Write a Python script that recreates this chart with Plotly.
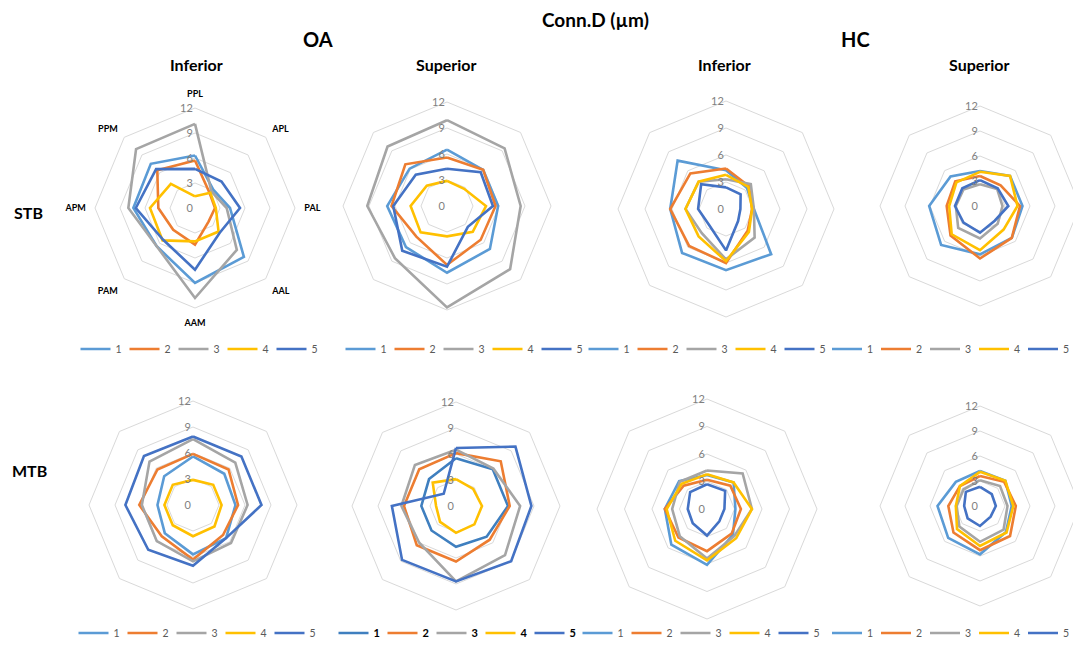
import plotly.graph_objects as go

categories = ["PPL", "APL", "PAL", "AAL", "AAM", "PAM", "APM", "PPM"]
series_names = ["1", "2", "3", "4", "5"]
radial_ticks = [0, 3, 6, 9, 12]

# OA - Inferior - STB
oa_inf_stb_1 = [6.3, 3.1, 4.2, 8.3, 9.0, 6.5, 7.4, 7.5]
oa_inf_stb_2 = [5.7, 2.5, 2.4, 2.3, 4.4, 3.7, 4.4, 6.4]
oa_inf_stb_3 = [10.1, 2.8, 3.8, 7.1, 10.8, 6.5, 8.0, 10.0]
oa_inf_stb_4 = [1.4, 2.6, 2.5, 4.0, 4.0, 5.5, 5.4, 4.1]
oa_inf_stb_5 = [4.7, 4.5, 5.4, 4.2, 7.4, 5.4, 7.1, 6.6]

# OA - Superior - STB
oa_sup_stb_1 = [6.5, 5.9, 5.9, 7.0, 7.7, 6.7, 6.9, 6.1]
oa_sup_stb_2 = [5.6, 5.9, 5.6, 5.5, 6.8, 5.0, 6.4, 6.8]
oa_sup_stb_3 = [9.9, 9.4, 8.5, 10.3, 11.7, 8.5, 9.2, 9.7]
oa_sup_stb_4 = [2.9, 2.8, 4.5, 4.2, 3.5, 4.3, 4.2, 3.3]
oa_sup_stb_5 = [4.3, 5.5, 5.3, 3.4, 7.0, 7.3, 6.2, 5.1]

# HC - Inferior - STB
hc_inf_stb_1 = [4.3, 3.3, 3.1, 7.1, 6.8, 6.9, 6.2, 7.6]
hc_inf_stb_2 = [4.5, 3.6, 2.9, 3.4, 6.0, 5.8, 6.2, 5.6]
hc_inf_stb_3 = [3.3, 3.9, 3.1, 4.5, 5.6, 3.8, 4.5, 4.3]
hc_inf_stb_4 = [3.8, 3.5, 2.9, 3.6, 5.8, 4.3, 4.5, 4.3]
hc_inf_stb_5 = [2.4, 2.3, 1.6, 1.9, 4.6, 2.6, 3.1, 3.9]

# HC - Superior - STB
hc_sup_stb_1 = [4.2, 5.1, 5.1, 5.4, 5.8, 6.6, 6.1, 5.0]
hc_sup_stb_2 = [3.6, 3.5, 4.8, 5.4, 6.3, 5.0, 4.0, 4.2]
hc_sup_stb_3 = [2.6, 2.9, 2.7, 3.0, 3.9, 3.7, 2.9, 2.8]
hc_sup_stb_4 = [4.1, 5.1, 4.5, 4.0, 5.3, 4.8, 3.7, 4.0]
hc_sup_stb_5 = [3.1, 3.0, 3.4, 2.5, 3.2, 2.8, 3.0, 3.0]

# OA - Inferior - MTB
oa_inf_mtb_1 = [5.6, 5.1, 4.9, 5.4, 5.7, 4.6, 4.1, 4.7]
oa_inf_mtb_2 = [5.9, 5.8, 5.2, 4.9, 6.3, 5.1, 6.2, 5.8]
oa_inf_mtb_3 = [7.6, 6.9, 6.3, 6.2, 6.5, 5.9, 5.9, 7.1]
oa_inf_mtb_4 = [2.9, 3.3, 3.3, 3.5, 3.6, 3.3, 3.3, 3.3]
oa_inf_mtb_5 = [7.9, 7.9, 7.9, 5.4, 7.0, 7.3, 7.8, 8.0]

# OA - Superior - MTB
oa_sup_mtb_1 = [5.5, 6.0, 6.0, 5.0, 4.7, 4.0, 4.0, 4.4]
oa_sup_mtb_2 = [6.1, 7.3, 6.2, 5.5, 6.4, 6.4, 6.0, 6.0]
oa_sup_mtb_3 = [6.5, 6.1, 7.4, 8.0, 8.7, 6.0, 6.3, 6.7]
oa_sup_mtb_4 = [3.1, 2.8, 3.0, 3.0, 3.1, 2.6, 2.3, 3.8]
oa_sup_mtb_5 = [6.7, 9.7, 8.7, 9.0, 8.7, 8.8, 7.4, 2.0]

# HC - Inferior - MTB
hc_inf_mtb_1 = [3.7, 4.1, 3.1, 4.0, 6.1, 5.5, 4.6, 4.3]
hc_inf_mtb_2 = [3.2, 3.6, 3.7, 3.8, 4.6, 4.4, 4.6, 3.6]
hc_inf_mtb_3 = [4.2, 5.5, 4.9, 4.2, 5.4, 4.2, 3.8, 4.2]
hc_inf_mtb_4 = [3.8, 4.1, 4.9, 4.5, 5.6, 4.9, 4.4, 3.9]
hc_inf_mtb_5 = [2.7, 2.8, 1.9, 1.9, 2.9, 2.2, 2.1, 2.6]

# HC - Superior - MTB
hc_sup_mtb_1 = [4.2, 4.3, 3.8, 4.4, 5.8, 5.4, 5.1, 4.1]
hc_sup_mtb_2 = [3.6, 4.1, 4.3, 5.1, 5.3, 4.5, 3.8, 3.4]
hc_sup_mtb_3 = [3.1, 3.4, 3.3, 4.0, 4.3, 3.5, 2.8, 2.8]
hc_sup_mtb_4 = [4.1, 4.3, 4.0, 4.5, 4.8, 3.9, 2.9, 3.4]
hc_sup_mtb_5 = [2.3, 2.0, 1.9, 1.8, 2.4, 2.1, 1.9, 2.4]

charts = [
    [oa_inf_stb_1, oa_inf_stb_2, oa_inf_stb_3, oa_inf_stb_4, oa_inf_stb_5],
    [oa_sup_stb_1, oa_sup_stb_2, oa_sup_stb_3, oa_sup_stb_4, oa_sup_stb_5],
    [hc_inf_stb_1, hc_inf_stb_2, hc_inf_stb_3, hc_inf_stb_4, hc_inf_stb_5],
    [hc_sup_stb_1, hc_sup_stb_2, hc_sup_stb_3, hc_sup_stb_4, hc_sup_stb_5],
    [oa_inf_mtb_1, oa_inf_mtb_2, oa_inf_mtb_3, oa_inf_mtb_4, oa_inf_mtb_5],
    [oa_sup_mtb_1, oa_sup_mtb_2, oa_sup_mtb_3, oa_sup_mtb_4, oa_sup_mtb_5],
    [hc_inf_mtb_1, hc_inf_mtb_2, hc_inf_mtb_3, hc_inf_mtb_4, hc_inf_mtb_5],
    [hc_sup_mtb_1, hc_sup_mtb_2, hc_sup_mtb_3, hc_sup_mtb_4, hc_sup_mtb_5],
]

colors = ["#5B9BD5", "#ED7D31", "#A5A5A5", "#FFC000", "#4472C4"]
colors_alt = ["#3F7FBF", "#ED7D31", "#A5A5A5", "#FFC000", "#4472C4"]

# page offset (browser body margin) and figure size
OFF = 8
W, H = 1081 - OFF, 646 - OFF


def px(x):
    return min(1.0, max(0.0, (x - OFF) / W))


def py(y):
    return min(1.0, max(0.0, 1 - (y - OFF) / H))


# (center x, center y, radius) in screen pixels for each radar
geom = [
    (195, 208, 100), (447, 206, 104), (726, 209, 108), (980, 206, 100),
    (193, 505, 104), (456, 506, 104), (707, 509, 110), (980, 506, 100),
]
# (x, y, anchor) of each legend in screen pixels
legend_pos = [
    (198, 349, "center"), (463, 349, "center"), (706, 349, "center"), (1072, 349, "right"),
    (196, 633, "center"), (456, 633, "center"), (700, 633, "center"), (1072, 633, "right"),
]

FONT = "Lato"
SUFFIX = "\u2003\u2003\u2002"
fig = go.Figure()

for i, data in enumerate(charts):
    pid = "polar" if i == 0 else f"polar{i+1}"
    lid = "legend" if i == 0 else f"legend{i+1}"
    cols = colors_alt if i == 5 else colors
    for j, vals in enumerate(data):
        fig.add_trace(go.Scatterpolar(
            r=vals + vals[:1],
            theta=categories + categories[:1],
            mode="lines",
            line=dict(color=cols[j], width=2.6),
            name=series_names[j],
            subplot=pid,
            legend=lid,
            showlegend=True,
        ))
    cx, cy, r = geom[i]
    fig.layout[pid] = dict(
        domain=dict(x=[px(cx - r), px(cx + r)], y=[py(cy + r), py(cy - r)]),
        gridshape="linear",
        bgcolor="white",
        radialaxis=dict(
            range=[0, 12], tickvals=radial_ticks, showline=False, ticks="",
            angle=90, side="counterclockwise", tickangle=90, ticksuffix=SUFFIX,
            gridcolor="#D9D9D9", gridwidth=1,
            tickfont=dict(family=FONT, size=11, color="#7F7F7F"),
        ),
        angularaxis=dict(
            direction="clockwise", rotation=90, showgrid=False,
            ticks="outside", ticklen=7, tickcolor="rgba(0,0,0,0)",
            showline=True, linecolor="#D9D9D9", linewidth=1,
            showticklabels=(i == 0),
            tickfont=dict(family=FONT, size=9, color="#000000", weight="bold"),
        ),
    )
    lx, ly, anchor = legend_pos[i]
    bold6 = (i == 5)
    fig.layout[lid] = dict(
        x=px(lx), y=py(ly), xanchor=anchor, yanchor="middle",
        orientation="h", bgcolor="rgba(0,0,0,0)",
        font=dict(family=FONT, size=11 if bold6 else 10.5,
                  color="#000000" if bold6 else "#595959",
                  weight="bold" if bold6 else "normal"),
        itemwidth=30, entrywidth=4, tracegroupgap=0,
    )

annots = [
    ("Conn.D (µm)", 595, 19, 19, "center"),
    ("OA", 318, 39, 20, "center"),
    ("HC", 855, 39, 20, "center"),
    ("Inferior", 196, 64, 16, "center"),
    ("Superior", 447, 64, 16, "center"),
    ("Inferior", 724, 64, 16, "center"),
    ("Superior", 980, 64, 16, "center"),
    ("STB", 12, 212, 16, "left"),
    ("MTB", 10, 470, 16, "left"),
]
for text, x, y, s, anc in annots:
    fig.add_annotation(text=text, x=px(x), y=py(y), xref="paper", yref="paper",
                       showarrow=False, xanchor=anc, yanchor="middle",
                       font=dict(family=FONT, size=s, color="#000000", weight="bold"))

fig.update_layout(
    width=W, height=H, margin=dict(l=0, r=0, t=0, b=0, autoexpand=False),
    paper_bgcolor="white", plot_bgcolor="white",
)
fig.write_html("out.html")
